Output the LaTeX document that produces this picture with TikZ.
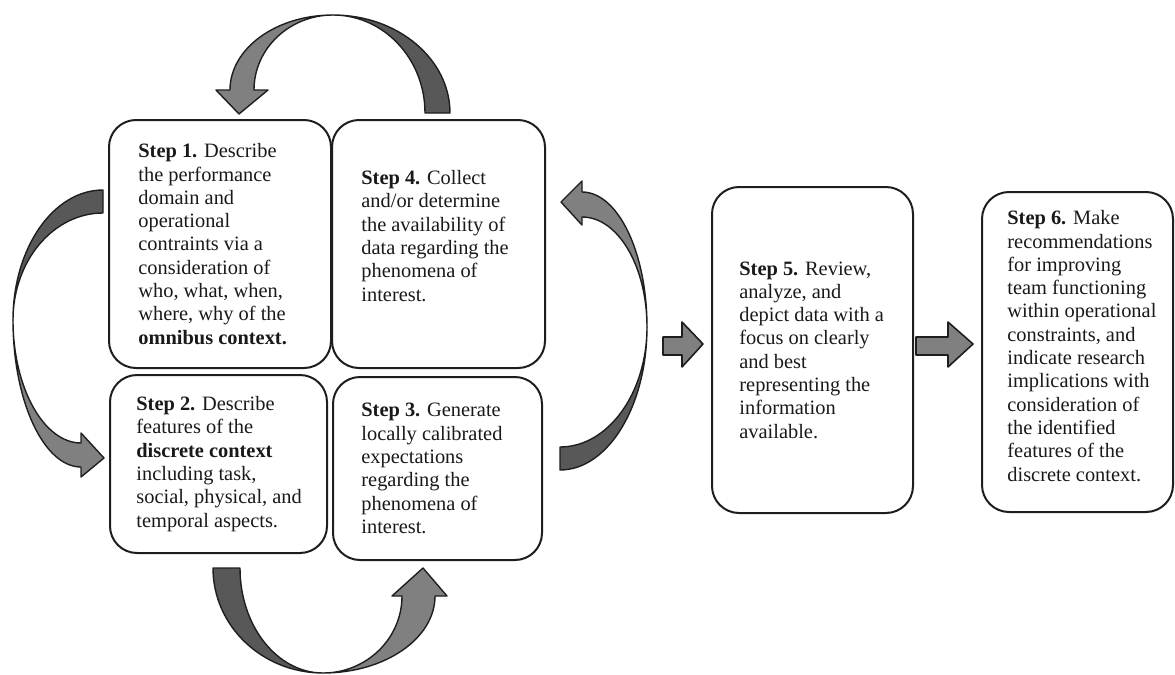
\documentclass[tikz,border=0pt]{standalone}
\usepackage{fontspec}
\setmainfont{Liberation Serif}
\definecolor{tailgray}{RGB}{88,88,88}
\definecolor{headgray}{RGB}{128,128,128}
\definecolor{edge}{RGB}{30,30,30}
\usetikzlibrary{positioning}

\begin{document}
\begin{tikzpicture}[x=0.5pt,y=-0.5pt,
    stepbox/.style={draw=edge,line width=1pt,rounded corners=13.5pt,inner sep=0pt},
    steptext/.style={align=left,inner sep=0pt,font=\fontsize{10.2}{11.65}\selectfont,text=black!90},
    tailpart/.style={fill=tailgray,draw=edge,line width=0.7pt,line join=round},
    headpart/.style={fill=headgray,draw=edge,line width=0.7pt,line join=round},
    blockarrow/.style={fill=headgray,draw=edge,line width=0.8pt,line join=round}]
    \useasboundingbox (0,0) rectangle (1175,675);
    % the four boxes of the loop
    \node[stepbox,minimum width=111pt,minimum height=124pt] (s1) at (220,244) {};
    \node[stepbox,minimum width=106.5pt,minimum height=124pt] (s4) at (438.5,244) {};
    \node[stepbox,minimum width=108.5pt,minimum height=89pt] (s2) at (218.5,464) {};
    \node[stepbox,minimum width=104.5pt,minimum height=91.5pt] (s3) at (437.5,468.5) {};
    % steps 5 and 6
    \node[stepbox,minimum width=100.5pt,minimum height=163pt] (s5) at (812.5,350) {};
    \node[stepbox,minimum width=95.5pt,minimum height=160pt] (s6) at (1077.5,352) {};

    \node[steptext,right=15pt of s1.west] (t1) {\textbf{Step 1.} Describe\\the performance\\domain and\\operational\\contraints via a\\consideration of\\who, what, when,\\where, why of the\\\textbf{omnibus context.}};
    \node[steptext,right=13.5pt of s2.west] (t2) {\textbf{Step 2.} Describe\\features of the\\\textbf{discrete context}\\including task,\\social, physical, and\\temporal aspects.};
    \node[steptext,right=14.5pt of s3.west] (t3) {\textbf{Step 3.} Generate\\locally calibrated\\expectations\\regarding the\\phenomena of\\interest.};
    \node[steptext,right=15pt of s4.west,yshift=4pt] (t4) {\textbf{Step 4.} Collect\\and/or determine\\the availability of\\data regarding the\\phenomena of\\interest.};
    \node[steptext,right=14pt of s5.west] (t5) {\textbf{Step 5.} Review,\\analyze, and\\depict data with a\\focus on clearly\\and best\\representing the\\information\\available.};
    \node[steptext,right=13pt of s6.west,yshift=3pt] (t6) {\textbf{Step 6.} Make\\recommendations\\for improving\\team functioning\\within operational\\constraints, and\\indicate research\\implications with\\consideration of\\the identified\\features of the\\discrete context.};

    % curved arrows: dark tail half, light head half
    % top, 4 -> 1
    \draw[tailpart] (450,113) .. controls (450,58.9) and (397.6,15) .. (333,15)
        .. controls (383.8,15) and (425,58.9) .. (425,113) -- cycle;
    \draw[headpart] (333,15) .. controls (276,15) and (230,48.6) .. (230,90) -- (216,90) -- (239,114)
        -- (268,90) -- (254,90) .. controls (254,48.6) and (289.4,15) .. (333,15) -- cycle;
    % left, 1 -> 2
    \draw[tailpart] (103,190) .. controls (53.3,190) and (13,248.2) .. (13,320)
        .. controls (13,260.9) and (53.3,213) .. (103,213) -- cycle;
    \draw[headpart] (13,320) .. controls (13,401.2) and (43.9,467) .. (81,467) -- (81,477) -- (104,458)
        -- (81,433) -- (81,443) .. controls (43.9,443) and (13,387.9) .. (13,320) -- cycle;
    % bottom, 2 -> 3
    \draw[tailpart] (213,568) .. controls (213,626) and (262.2,673) .. (323,673)
        .. controls (277.2,673) and (240,626) .. (240,568) -- cycle;
    \draw[headpart] (323,673) .. controls (384.9,673) and (435,638.5) .. (435,596) -- (447,596) -- (423,568)
        -- (392,596) -- (402,596) .. controls (402,638.5) and (366.6,673) .. (323,673) -- cycle;
    % right, 3 -> 4
    \draw[tailpart] (560,470) .. controls (608,470) and (647,406) .. (647,327)
        .. controls (647,393.3) and (608,447) .. (560,447) -- cycle;
    \draw[headpart] (647,327) .. controls (647,252.4) and (617.9,192) .. (582,192) -- (582,181) -- (561,202)
        -- (582,225) -- (582,217) .. controls (617.9,217) and (647,266.2) .. (647,327) -- cycle;

    % block arrows
    \draw[blockarrow] (663,337) -- (682,337) -- (682,322) -- (703,344) -- (682,367) -- (682,355) -- (663,355) -- cycle;
    \draw[blockarrow] (916,337) -- (948,337) -- (948,322) -- (973,344) -- (948,367) -- (948,355) -- (916,355) -- cycle;
\end{tikzpicture}
\end{document}
